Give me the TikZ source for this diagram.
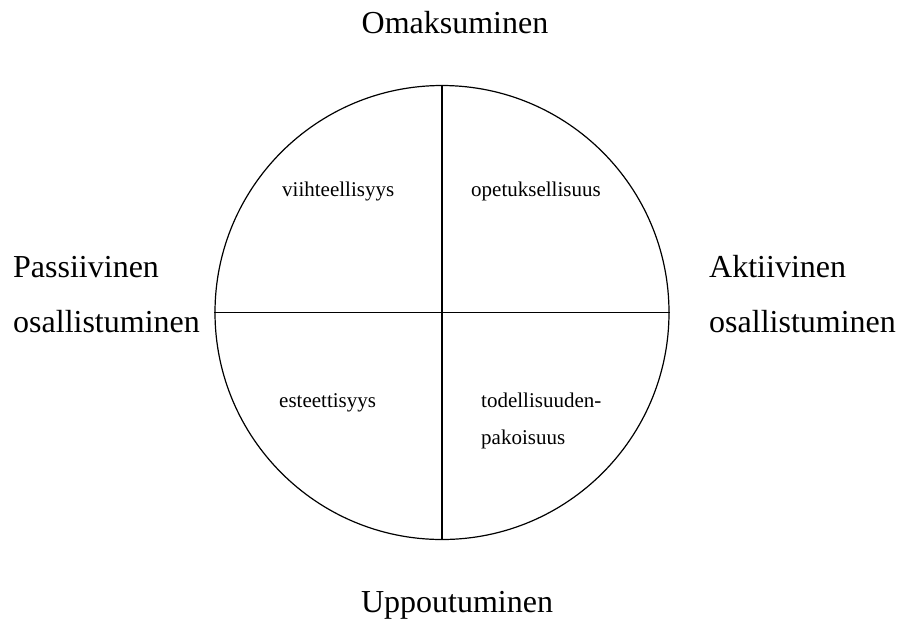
\documentclass[tikz,border=0pt]{standalone}
\usepackage{fontspec}
\setmainfont{Liberation Serif}

\begin{document}
\begin{tikzpicture}[x=1pt,y=-1pt,
    iso/.style={font=\fontsize{32}{38}\selectfont,anchor=base west,inner sep=0pt},
    pieni/.style={font=\fontsize{21}{25}\selectfont,anchor=base west,inner sep=0pt}]
        \useasboundingbox (0,0) rectangle (899,622);

        % the circle and its quarters
        \node[draw,circle,line width=1.2pt,inner sep=0pt,minimum size=454pt] (kehä) at (442,312.5) {};
        \draw[line width=1.2pt] (kehä.north) -- (kehä.south);
        \draw[line width=1.2pt] (kehä.west) -- (kehä.east);

        % the axes
        \node[iso,anchor=base] (omaks) at (455,33) {Omaksuminen};
        \node[iso,anchor=base] (uppout) at (457,612) {Uppoutuminen};
        \node[iso] (pass) at (13,277) {Passiivinen};
        \node[iso] (passos) at (13,332) {osallistuminen};
        \node[iso] (akt) at (709,277) {Aktiivinen};
        \node[iso] (aktos) at (709,332) {osallistuminen};

        % the quarters
        \node[pieni] (viiht) at (282,196) {viihteellisyys};
        \node[pieni] (opet) at (471,196) {opetuksellisuus};
        \node[pieni] (estet) at (279,407) {esteettisyys};
        \node[pieni] (todell) at (481,407) {todellisuuden-};
        \node[pieni] (pako) at (481,444) {pakoisuus};
    \end{tikzpicture}
\end{document}
